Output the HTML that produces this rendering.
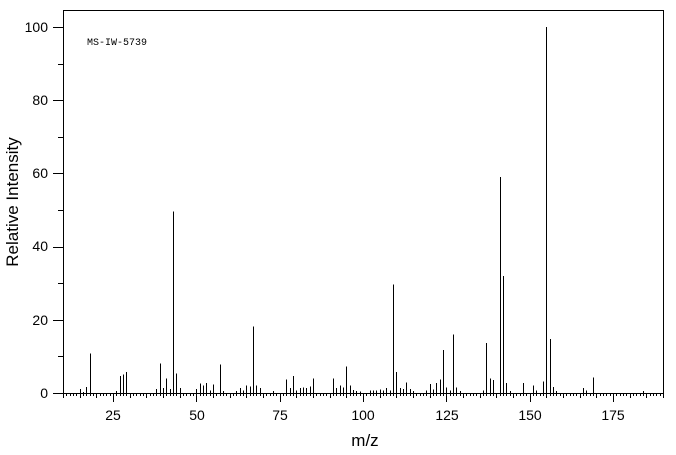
<!DOCTYPE html>
<html><head><meta charset="utf-8"><style>
html,body{margin:0;padding:0;background:#fff;}
svg{display:block;}
text{font-family:"Liberation Sans",sans-serif;fill:#000;}
</style></head><body>
<svg id="s" width="676" height="455" viewBox="0 0 676 455" xmlns="http://www.w3.org/2000/svg">
<rect x="63.5" y="10.5" width="600" height="383" fill="none" stroke="#000" stroke-width="1"/>
<g id="g" stroke="#000" stroke-width="1" shape-rendering="crispEdges"></g>
<g font-size="14" text-anchor="end">
<text x="48" y="398">0</text>
<text x="48" y="325">20</text>
<text x="48" y="251">40</text>
<text x="48" y="178">60</text>
<text x="48" y="105">80</text>
<text x="48" y="32">100</text>
</g>
<g font-size="14" text-anchor="middle">
<text x="113" y="420">25</text>
<text x="197" y="420">50</text>
<text x="280" y="420">75</text>
<text x="363" y="420">100</text>
<text x="447" y="420">125</text>
<text x="530" y="420">150</text>
<text x="613" y="420">175</text>
</g>
<text x="365" y="446" font-size="17" text-anchor="middle">m/z</text>
<text transform="translate(18,202) rotate(-90)" font-size="17" text-anchor="middle">Relative Intensity</text>
<text x="87" y="45" font-size="10" style="font-family:'Liberation Mono',monospace">MS-IW-5739</text>
</svg>
<script>
var g=document.getElementById('g'),h='';
function X(m){return Math.round(63+(m-10)*3.3333)+0.5;}
function Y(i){return 393-i*3.66;}
function L(x1,y1,x2,y2){h+='<line x1="'+x1+'" y1="'+y1+'" x2="'+x2+'" y2="'+y2+'"/>';}
for(var m=10;m<=190;m++){var len=(m%25==0)?9:(m%5==0?5:3);L(X(m),393,X(m),393+len);}
for(var i=0;i<=100;i+=10){var y=Math.round(Y(i))+0.5;L(i%20==0?53:58,y,63,y);}
var p=[[15,1.1],[16,0.3],[17,1.6],[18,10.8],[26,0.5],[27,4.7],[28,5],[29,5.8],[38,1.1],[39,8],[40,1.4],[41,3.9],[42,1.1],[43,49.6],[44,5.3],[45,1.4],[50,1.1],[51,2.6],[52,2],[53,2.8],[54,0.7],[55,2.3],[57,7.8],[58,0.5],[62,0.5],[63,1.4],[64,0.7],[65,2],[66,1.8],[67,18.2],[68,2],[69,1.3],[73,0.5],[77,3.7],[78,1.3],[79,4.7],[80,0.7],[81,1.3],[82,1.5],[83,1.3],[84,1.8],[85,3.9],[91,3.9],[92,1.3],[93,2],[94,1.5],[95,7.3],[96,2],[97,0.8],[98,0.5],[99,0.4],[102,0.7],[103,0.7],[104,0.7],[105,0.9],[106,0.7],[107,1.3],[108,0.7],[109,29.7],[110,5.7],[111,1.3],[112,1.1],[113,2.9],[114,1.1],[115,0.5],[119,0.7],[120,2.4],[121,0.9],[122,2.7],[123,3.7],[124,11.7],[125,1.5],[126,0.7],[127,16],[128,1.5],[129,0.5],[136,0.7],[137,13.7],[138,4],[139,3.5],[141,59],[142,32],[143,2.7],[144,0.5],[148,2.7],[151,2],[152,0.7],[154,3.1],[155,100],[156,14.8],[157,1.6],[158,0.5],[166,1.3],[167,0.7],[169,4.2],[184,0.5]];
p.forEach(function(q){L(X(q[0]),393,X(q[0]),Y(q[1]).toFixed(1));});
L(63,393.5,663,393.5);
g.innerHTML=h;
</script>
</body></html>
